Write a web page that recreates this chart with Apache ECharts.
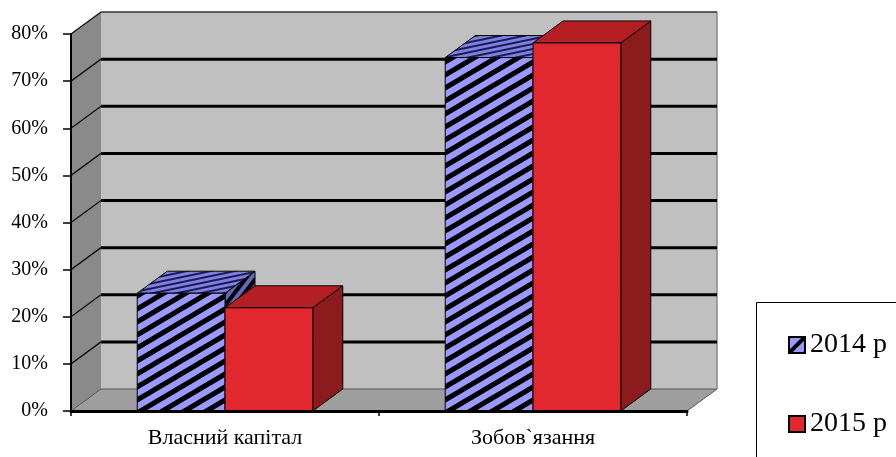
<!DOCTYPE html>
<html><head><meta charset="utf-8">
<script src="https://cdn.jsdelivr.net/npm/echarts@6/dist/echarts.min.js"></script>
<style>html,body{margin:0;padding:0;background:#fff}#c{width:896px;height:457px}</style>
</head><body><div id="c"></div>
<script>
// ---- data ----
const categories = ['Власний капітал', 'Зобов`язання'];
const seriesNames = ['2014 р', '2015 р'];
const values2014 = [25.0, 75.0];
const values2015 = [21.9, 78.1];
const yTicks = [0, 10, 20, 30, 40, 50, 60, 70, 80];

// ---- style / geometry ----
const DX = 30, DY = -22;
const BAR_FRAC = 0.285;

function stripeCanvas(w, h, bg, fg, lw) {
  const c = document.createElement('canvas'); c.width = w; c.height = h;
  const g = c.getContext('2d');
  g.fillStyle = bg; g.fillRect(0, 0, w, h);
  g.strokeStyle = fg; g.lineWidth = lw;
  for (let k = -2; k <= 3; k++) {
    const c0 = k * h;
    g.beginPath(); g.moveTo(-w, c0 + h); g.lineTo(2 * w, c0 - 2 * h); g.stroke();
  }
  return c;
}
const hatchFront = { image: stripeCanvas(22, 13, '#9999ff', '#000000', 5), repeat: 'repeat' };
const hatchTop = { image: stripeCanvas(24, 5, '#8080e0', '#1a1a55', 2), repeat: 'repeat' };
const hatchSide = { image: stripeCanvas(10, 13, '#6666bb', '#000000', 4), repeat: 'repeat' };
const hatchLegend = { image: stripeCanvas(16, 16, '#9999ff', '#000000', 4), repeat: 'repeat' };

const styles2014 = { front: hatchFront, top: hatchTop, side: hatchSide };
const styles2015 = { front: '#e0282e', top: '#b51f24', side: '#8c1b1e' };

function barRenderer(idx, st) {
  return function (params, api) {
    const cat = api.value(0), v = api.value(1);
    const base = api.coord([cat, 0]);
    const top = api.coord([cat, v]);
    const bw = api.size([1, 0])[0] * BAR_FRAC;
    const x0 = idx === 0 ? base[0] - bw : base[0];
    const x1 = x0 + bw, y0 = top[1], y1 = base[1];
    const ls = { stroke: '#000', lineWidth: 1 };
    return {
      type: 'group', children: [
        { type: 'polygon', shape: { points: [[x1, y0], [x1 + DX, y0 + DY], [x1 + DX, y1 + DY], [x1, y1]] }, style: Object.assign({ fill: st.side }, ls) },
        { type: 'polygon', shape: { points: [[x0, y0], [x0 + DX, y0 + DY], [x1 + DX, y0 + DY], [x1, y0]] }, style: Object.assign({ fill: st.top }, ls) },
        { type: 'rect', shape: { x: x0, y: y0, width: bw, height: y1 - y0 }, style: Object.assign({ fill: st.front }, ls) }
      ]
    };
  };
}

function wallRenderer(params, api) {
  const cs = params.coordSys;
  const L = cs.x, R = cs.x + cs.width, T = cs.y, B = cs.y + cs.height;
  const ch = [
    { type: 'rect', shape: { x: L + DX, y: T + DY, width: R - L, height: B - T }, style: { fill: '#c0c0c0' } },
    { type: 'polygon', shape: { points: [[L, T], [L + DX, T + DY], [L + DX, B + DY], [L, B]] }, style: { fill: '#8a8a8a' } },
    { type: 'polygon', shape: { points: [[L, B], [R, B], [R + DX, B + DY], [L + DX, B + DY]] }, style: { fill: '#9e9e9e', stroke: '#555', lineWidth: 1 } },
    { type: 'line', shape: { x1: R + DX, y1: T + DY, x2: R + DX, y2: B + DY }, style: { stroke: '#8a8a8a', lineWidth: 1.5 } }
  ];
  yTicks.forEach(function (t) {
    if (t === 0) return;
    const y = api.coord([0, t])[1];
    const last = t === yTicks[yTicks.length - 1];
    ch.push({ type: 'line', shape: { x1: L + DX, y1: y + DY, x2: R + DX, y2: y + DY }, style: { stroke: last ? '#333' : '#000', lineWidth: last ? 1.5 : 3 } });
    ch.push({ type: 'line', shape: { x1: L, y1: y, x2: L + DX, y2: y + DY }, style: { stroke: '#111', lineWidth: 1.3 } });
  });
  return { type: 'group', children: ch };
}

const chart = echarts.init(document.getElementById('c'));
const font = 'Liberation Serif, Times New Roman, serif';
chart.setOption({
  animation: false,
  backgroundColor: '#fff',
  grid: { left: 71, right: 209, top: 34, bottom: 46 },
  graphic: [{ type: 'rect', left: 756, top: 302, shape: { width: 200, height: 200 }, style: { fill: '#fff', stroke: '#000', lineWidth: 1 }, z: -1 }],
  legend: {
    orient: 'vertical', left: 783, top: 326, itemWidth: 16, itemHeight: 16, itemGap: 51,
    textStyle: { fontFamily: font, fontSize: 28, color: '#000' },
    data: [
      { name: seriesNames[0], icon: 'rect', itemStyle: { color: hatchLegend, borderColor: '#000', borderWidth: 2 } },
      { name: seriesNames[1], icon: 'rect', itemStyle: { color: '#e0282e', borderColor: '#000', borderWidth: 2 } }
    ]
  },
  xAxis: {
    type: 'category', data: categories, z: 5,
    axisLine: { lineStyle: { color: '#000', width: 3 } },
    axisTick: { show: true, length: 5, lineStyle: { color: '#000', width: 1.5 } },
    axisLabel: { fontFamily: font, fontSize: 22, color: '#000', margin: 16 }
  },
  yAxis: {
    type: 'value', min: 0, max: 80, interval: 10, z: 5,
    axisLine: { show: true, lineStyle: { color: '#000', width: 2 } },
    axisTick: { show: true, length: 8, lineStyle: { color: '#000', width: 1.5 } },
    axisLabel: { fontFamily: font, fontSize: 20, color: '#000', margin: 23, formatter: '{value}%' },
    splitLine: { show: false }
  },
  series: [
    { type: 'custom', name: 'walls', z: 1, silent: true, renderItem: wallRenderer, data: [[0, 0]] },
    { type: 'custom', name: seriesNames[0], z: 2, renderItem: barRenderer(0, styles2014), itemStyle: { color: '#9999ff' }, data: values2014.map(function (v, i) { return [i, v]; }) },
    { type: 'custom', name: seriesNames[1], z: 2, renderItem: barRenderer(1, styles2015), itemStyle: { color: '#e0282e' }, data: values2015.map(function (v, i) { return [i, v]; }) }
  ]
});
</script></body></html>
